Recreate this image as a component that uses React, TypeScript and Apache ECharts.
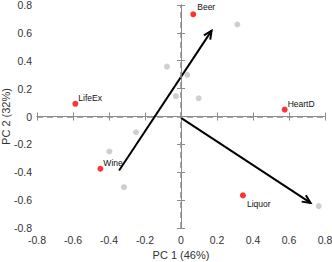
import React, { useEffect, useRef } from "react";
import * as echarts from "echarts";

// Variable names (red points) and their scores
const varNames = ["Beer", "LifeEx", "HeartD", "Wine", "Liquor"];
const varX = [0.068, -0.587, 0.576, -0.448, 0.344];
const varY = [0.733, 0.091, 0.05, -0.375, -0.566];

// Observation scores (gray points)
const obsX = [0.313, -0.078, 0.035, -0.028, 0.098, -0.25, -0.398, -0.317, 0.765];
const obsY = [0.66, 0.358, 0.299, 0.146, 0.131, -0.113, -0.251, -0.507, -0.643];

// Arrows: [x0, y0, x1, y1]
const arrows = [
  [-0.344, -0.387, 0.17, 0.616],
  [0, -0.01, 0.72, -0.62],
];

const xTitle = "PC 1 (46%)";
const yTitle = "PC 2 (32%)";

// label offsets for names
const labelOffsets: Record<string, [number, number]> = {
  Beer: [1, -7],
  LifeEx: [0, -6],
  HeartD: [0, -6],
  Wine: [0, -6],
  Liquor: [1, 9],
};

export default function App() {
  const ref = useRef<HTMLDivElement>(null);
  useEffect(() => {
    if (!ref.current) return;
    const chart = echarts.init(ref.current, null, { renderer: "svg" });
    const font = "Liberation Sans, Arial, sans-serif";
    const axisCommon = {
      min: -0.8,
      max: 0.8,
      interval: 0.2,
      axisLine: { show: true, lineStyle: { color: "#8c8c8c", width: 1 } },
      axisTick: { show: true, inside: true, length: 4, lineStyle: { color: "#8c8c8c" } },
      splitLine: { show: false },
    };
    const fmt = (v: number) => {
      const r = Math.round(v * 10) / 10;
      return r === 0 ? "0" : String(r);
    };
    chart.setOption({
      animation: false,
      grid: {
        left: 37,
        right: 7,
        top: 5,
        bottom: 34,
        containLabel: false,
        outerBoundsMode: "none",
      },
      xAxis: [
        {
          ...axisCommon,
          type: "value",
          position: "bottom",
          name: xTitle,
          nameLocation: "middle",
          nameGap: 21,
          nameMoveOverlap: false,
          nameTextStyle: { fontFamily: font, fontSize: 11, color: "#333" },
          axisLabel: { fontFamily: font, fontSize: 10.5, color: "#333", margin: 6, formatter: fmt },
        },
        {
          ...axisCommon,
          type: "value",
          position: "top",
          axisLabel: { show: false },
        },
      ],
      yAxis: [
        {
          ...axisCommon,
          type: "value",
          position: "left",
          name: yTitle,
          nameLocation: "middle",
          nameGap: 26,
          nameRotate: 90,
          nameMoveOverlap: false,
          nameTextStyle: { fontFamily: font, fontSize: 11, color: "#333" },
          axisLabel: { fontFamily: font, fontSize: 10.5, color: "#333", margin: 5, formatter: fmt },
        },
        {
          ...axisCommon,
          type: "value",
          position: "right",
          axisLabel: { show: false },
        },
      ],
      series: [
        {
          type: "scatter",
          xAxisIndex: 0,
          yAxisIndex: 0,
          symbolSize: 6,
          itemStyle: { color: "#c3c3c3" },
          data: obsX.map((x, i) => [x, obsY[i]]),
          markLine: {
            silent: true,
            symbol: ["none", "none"],
            label: { show: false },
            lineStyle: { color: "#8c8c8c", type: [6, 4], width: 1.5 },
            data: [{ xAxis: 0 }, { yAxis: 0 }],
          },
        },
        {
          type: "custom",
          xAxisIndex: 0,
          yAxisIndex: 0,
          encode: { x: [0, 2], y: [1, 3] },
          data: arrows,
          renderItem: (params: any, api: any) => {
            const s = api.coord([api.value(0), api.value(1)]);
            const e = api.coord([api.value(2), api.value(3)]);
            const ang = Math.atan2(e[1] - s[1], e[0] - s[0]);
            const L = 9;
            const a = (25 * Math.PI) / 180;
            const p1 = [e[0] - L * Math.cos(ang - a), e[1] - L * Math.sin(ang - a)];
            const p2 = [e[0] - L * Math.cos(ang + a), e[1] - L * Math.sin(ang + a)];
            return {
              type: "group",
              children: [
                {
                  type: "line",
                  shape: { x1: s[0], y1: s[1], x2: e[0], y2: e[1] },
                  style: { stroke: "#000", lineWidth: 2 },
                },
                {
                  type: "polyline",
                  shape: { points: [p1, e, p2] },
                  style: { stroke: "#000", lineWidth: 2, fill: "none" },
                },
              ],
            };
          },
        },
        {
          type: "scatter",
          xAxisIndex: 0,
          yAxisIndex: 0,
          symbolSize: 6,
          itemStyle: { color: "#ff0000" },
          data: varNames.map((n, i) => ({ name: n, value: [varX[i], varY[i]] })),
        },
        {
          type: "scatter",
          xAxisIndex: 0,
          yAxisIndex: 0,
          symbolSize: 0,
          itemStyle: { color: "#000000", opacity: 0 },
          silent: true,
          data: varNames.map((n, i) => ({
            name: n,
            value: [varX[i], varY[i]],
            label: {
              show: true,
              position: "right",
              distance: 3,
              offset: labelOffsets[n],
              formatter: n,
              fontFamily: font,
              fontSize: 8.5,
              color: "#111111",
              opacity: 1,
            },
          })),
        },
      ],
    });
    return () => chart.dispose();
  }, []);
  return (
    <div
      ref={ref}
      style={{ position: "fixed", left: 0, top: 0, width: 332, height: 262, background: "#fff" }}
    />
  );
}
